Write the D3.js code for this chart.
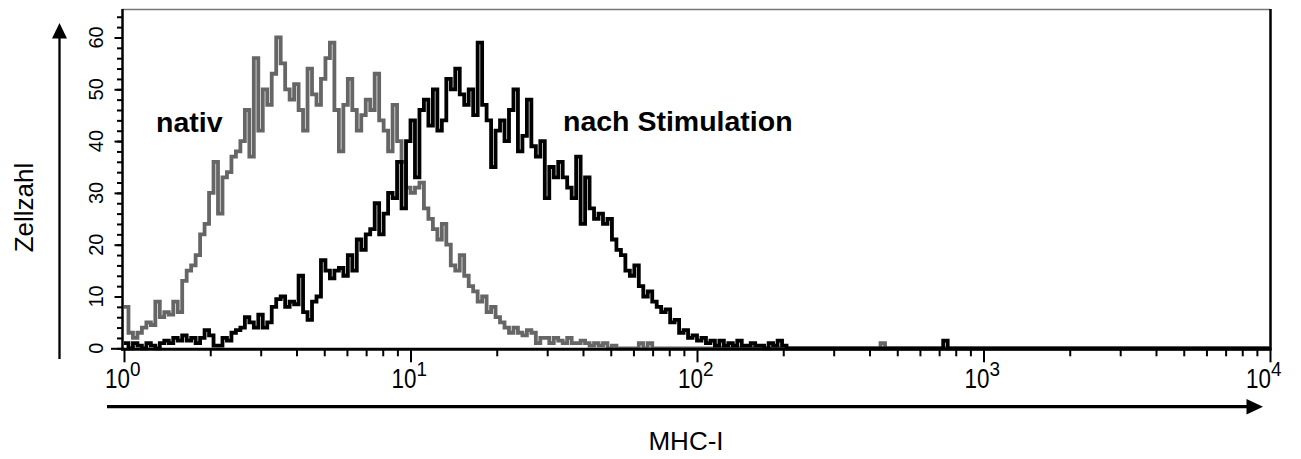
<!DOCTYPE html>
<html>
<head>
<meta charset="utf-8">
<script src="https://cdn.jsdelivr.net/npm/d3@7"></script>
<style>
  html, body { margin: 0; padding: 0; background: #fff; }
  svg { display: block; }
  text { font-family: "Liberation Sans", Arial, Helvetica, sans-serif; fill: #000; }
</style>
</head>
<body>
<svg id="chart" width="1301" height="459"></svg>
<script>
// ---- data (256 channels over 4 decades) ----
const nativCounts = [
  8,3,2,3,4,5,4.5,9,6,7,6.5,9,7,13,15,16,
  18,22,24,30,36,26,33,34,37,38,40,46,37,56,42,50,
  47,53,60,55,50,48,51,46,42,54,49,47,52,56,59,46,
  38,47,52,46,42,45,48,46,53,44,42,38,47,40,36,31,
  30,31,32,27,25,23,21,24,20,16,15,18,14,12,11,9,
  10,7,8,6,5,4,3,4,3,2.5,3.5,3,1,2,2,1,
  2,1.5,1,2,1,1,1.5,1,0.5,1,0.5,1,0,0.5,0,0,
  0,0,0,1,0,1,0,0,0,0,0,0,0,0,0,0,
  0,0,0,0,0,0,0,0,0,0,0,0,0,0,0,0,
  0,0,0,0,0,0,0,0,0,0,0,0,0,0,0,0,
  0,0,0,0,0,0,0,0,0,1,0,0,0,0,0,0,
  0,0,0,0,0,0,0,0,0,0,0,0,0,0,0,0,
  0,0,0,0,0,0,0,0,0,0,0,0,0,0,0,0,
  0,0,0,0,0,0,0,0,0,0,0,0,0,0,0,0,
  0,0,0,0,0,0,0,0,0,0,0,0,0,0,0,0,
  0,0,0,0,0,0,0,0,0,0,0,0,0,0,0,0
];
const stimCounts = [
  1,0,1,0.5,0,1,0.5,0,1,1.5,1,2,1.5,2.5,1.5,2,
  1,2,3.5,2.5,0.5,0.5,2,1.5,3,3.5,4,6,5,4,6.5,4,
  5,8,9.5,10,8,9,8.5,14,7,5.5,9,10,17,15,13.5,15,
  15.5,14,18,15,21,19,22,23,28,22,26,30,29,36,27,40,
  44,33,46,48,43,50,42,44,52,50,54,49,47,50,45,59,
  47,44,35,42,44,40,46,50,38,41,48,39,37,40,29,35,
  33,36,33,31,29,37,24,33,27,25,26,24,25,21,19,18,
  15,14,16,12,10,11,9,8,7,7.5,5,5.5,3,3.5,2,2.5,
  1.5,2,1,1.5,0.5,1.5,0.5,1,0.5,1.5,0.5,0.5,1,0.5,0.5,0,
  1,0.5,1.5,0.5,0,0,0,0,0,0,0,0,0,0,0,0,
  0,0,0,0,0,0,0,0,0,0,0,0,0,0,0,0,
  0,0,0,0,0,0,0,1.5,0,0,0,0,0,0,0,0,
  0,0,0,0,0,0,0,0,0,0,0,0,0,0,0,0,
  0,0,0,0,0,0,0,0,0,0,0,0,0,0,0,0,
  0,0,0,0,0,0,0,0,0,0,0,0,0,0,0,0,
  0,0,0,0,0,0,0,0,0,0,0,0,0,0,0,0
];
const xMajorTicks = [1, 10, 100, 1000, 10000];
const xTickExponents = ["0", "1", "2", "3", "4"];
const yMajorTicks = [0, 10, 20, 30, 40, 50, 60];
const yTickLabels = ["0", "10", "20", "30", "40", "50", "60"];
const seriesLabels = ["nativ", "nach Stimulation"];
const xTitle = "MHC-I";
const yTitle = "Zellzahl";

// ---- layout ----
const svg = d3.select("#chart");
const X0 = 124, X1 = 1270, Y0 = 348.3, YT = 9.5;
const nCh = nativCounts.length;

const xLog = d3.scaleLog().domain([1, 10000]).range([X0, X1]);
const xCh = d3.scaleLinear().domain([0, nCh]).range([X0, X1]);
const y = d3.scaleLinear().domain([0, 65.4]).range([Y0, YT]);

// minor x ticks
const xMinor = [];
for (let d = 0; d < 4; d++) for (let k = 2; k <= 9; k++) xMinor.push(k * Math.pow(10, d));
const yMinor = d3.range(0, 65, 2);

// frame: top (thin gray) and right (black)
svg.append("line").attr("x1", 122).attr("x2", X1).attr("y1", YT).attr("y2", YT)
  .attr("stroke", "#777").attr("stroke-width", 1.5);
svg.append("line").attr("x1", X1 + 0.5).attr("x2", X1 + 0.5).attr("y1", YT - 0.5).attr("y2", 350)
  .attr("stroke", "#000").attr("stroke-width", 2.5);

// histograms
function pts(arr) {
  const p = arr.map((v, i) => ({ ch: i, v }));
  p.push({ ch: nCh, v: arr[arr.length - 1] });
  return p;
}
const line = d3.line().x(d => xCh(d.ch)).y(d => y(d.v)).curve(d3.curveStepAfter);
svg.append("path").datum(pts(nativCounts)).attr("d", line)
  .attr("fill", "none").attr("stroke", "#666").attr("stroke-width", 3.8).attr("stroke-linejoin", "miter");
svg.append("path").datum(pts(stimCounts)).attr("d", line)
  .attr("fill", "none").attr("stroke", "#000").attr("stroke-width", 3.8).attr("stroke-linejoin", "miter");

// x axis
const gx = svg.append("g").attr("transform", `translate(0,${Y0 + 1})`);
gx.call(d3.axisBottom(xLog).tickValues(xMinor).tickSize(7).tickFormat(""));
const gxM = svg.append("g").attr("transform", `translate(0,${Y0 + 1})`);
gxM.call(d3.axisBottom(xLog).tickValues(xMajorTicks).tickSize(13).tickFormat(""));
[gx, gxM].forEach(g => {
  g.select(".domain").remove();
  g.selectAll(".tick line").attr("stroke", "#000").attr("stroke-width", 2);
});
svg.append("line").attr("x1", 121).attr("x2", X1 + 1.5).attr("y1", Y0 + 1).attr("y2", Y0 + 1)
  .attr("stroke", "#000").attr("stroke-width", 3);

// x tick labels: 10^n
xMajorTicks.forEach((t, i) => {
  const ax = Math.min(xLog(t) + 6, 1271);
  svg.append("text").attr("transform", `translate(${ax},388.3) scale(0.8,1)`)
    .attr("text-anchor", "end").attr("font-size", 28).text("10");
  svg.append("text").attr("transform", `translate(${ax},375.5) scale(0.9,1)`)
    .attr("text-anchor", "start").attr("font-size", 21).text(xTickExponents[i]);
});

// y axis
const gy = svg.append("g").attr("transform", `translate(122,0)`);
gy.call(d3.axisLeft(y).tickValues(yMinor).tickSize(5).tickFormat(""));
const gyM = svg.append("g").attr("transform", `translate(122,0)`);
gyM.call(d3.axisLeft(y).tickValues(yMajorTicks).tickSize(7.5).tickFormat(""));
[gy, gyM].forEach(g => {
  g.select(".domain").remove();
  g.selectAll(".tick line").attr("stroke", "#000").attr("stroke-width", 2);
});
gyM.selectAll(".tick").filter(d => d === 0).select("line").attr("x2", -11);
svg.append("line").attr("x1", 122.5).attr("x2", 122.5).attr("y1", YT - 0.5).attr("y2", 350.5)
  .attr("stroke", "#000").attr("stroke-width", 2.5);

// y tick labels (rotated)
yMajorTicks.forEach((t, i) => {
  svg.append("text").attr("transform", `translate(102.5,${y(t)}) rotate(-90)`)
    .attr("text-anchor", "middle").attr("font-size", 20).text(yTickLabels[i]);
});

// series labels
svg.append("text").attr("x", 156).attr("y", 131.5).attr("font-size", 28.5)
  .attr("font-weight", "bold").text(seriesLabels[0]);
svg.append("text").attr("x", 563).attr("y", 130.7).attr("font-size", 28.5)
  .attr("font-weight", "bold").text(seriesLabels[1]);

// axis arrows
svg.append("line").attr("x1", 59.5).attr("x2", 59.5).attr("y1", 359).attr("y2", 36)
  .attr("stroke", "#000").attr("stroke-width", 2.3);
svg.append("path").attr("d", "M59.5,23 L52,38.5 L67,38.5 Z").attr("fill", "#000");
svg.append("line").attr("x1", 107).attr("x2", 1249).attr("y1", 406.7).attr("y2", 406.7)
  .attr("stroke", "#000").attr("stroke-width", 3.2);
svg.append("path").attr("d", "M1263,406.7 L1246.5,399 L1246.5,414.4 Z").attr("fill", "#000");

// axis titles
svg.append("text").attr("x", 686).attr("y", 450).attr("text-anchor", "middle")
  .attr("font-size", 26).text(xTitle);
svg.append("text").attr("transform", "translate(32.5,207.5) rotate(-90)")
  .attr("text-anchor", "middle").attr("font-size", 26).text(yTitle);
</script>
</body>
</html>
